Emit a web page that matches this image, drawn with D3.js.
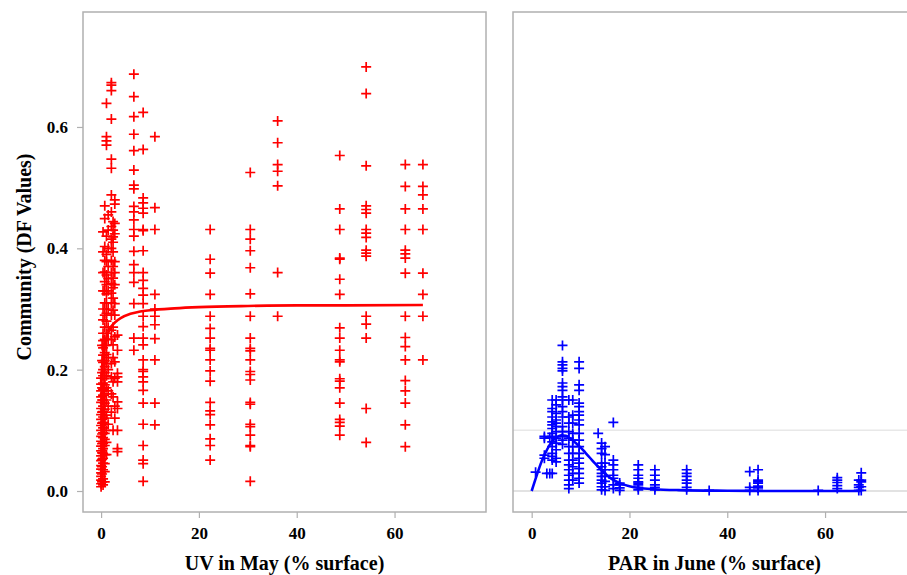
<!DOCTYPE html>
<html>
<head>
<meta charset="utf-8">
<script src="https://cdn.jsdelivr.net/npm/d3@7"></script>
<style>
  body { margin: 0; background: #fff; }
  svg { display: block; }
  text { font-family: "Liberation Serif", "Times New Roman", serif; font-weight: bold; fill: #000; }
</style>
</head>
<body>
<svg id="chart" width="907" height="575"></svg>
<script>
// ---- UV in May: sampling sites (% surface) and community DF values at each ----
const uvSites = [0.0, 0.2, 0.4, 0.75, 1.1, 1.45, 2.1, 2.45, 2.8, 3.35, 6.7, 8.6, 11.0, 22.3, 30.5, 36.1, 48.8, 54.2, 62.2, 65.8];
const uvDF = [
  [0.007, 0.012, 0.018, 0.024, 0.03, 0.036, 0.042, 0.05, 0.058, 0.066, 0.074, 0.082, 0.09, 0.1, 0.108, 0.118, 0.126, 0.136, 0.146, 0.155, 0.165, 0.176, 0.186],
  [0.015, 0.028, 0.04, 0.052, 0.063, 0.078, 0.094, 0.112, 0.13, 0.15, 0.17, 0.195, 0.215, 0.24],
  [0.01, 0.02, 0.035, 0.046, 0.054, 0.062, 0.07, 0.079, 0.088, 0.096, 0.104, 0.113, 0.122, 0.131, 0.14, 0.15, 0.158, 0.168, 0.178, 0.19, 0.2, 0.212, 0.224, 0.236, 0.248, 0.26, 0.282, 0.3, 0.33, 0.36, 0.394, 0.427],
  [0.015, 0.032, 0.045, 0.06, 0.075, 0.085, 0.095, 0.11, 0.12, 0.135, 0.145, 0.16, 0.175, 0.185, 0.195, 0.205, 0.215, 0.228, 0.24, 0.25, 0.27, 0.29, 0.31, 0.33, 0.345, 0.361, 0.38, 0.403, 0.449, 0.47],
  [0.06, 0.08, 0.1, 0.125, 0.15, 0.17, 0.19, 0.21, 0.225, 0.24, 0.26, 0.28, 0.293, 0.31, 0.325, 0.34, 0.356, 0.378, 0.39, 0.42, 0.57, 0.577, 0.584, 0.639],
  [0.11, 0.14, 0.165, 0.2, 0.22, 0.25, 0.27, 0.3, 0.33, 0.35, 0.37, 0.4, 0.43, 0.455],
  [0.13, 0.16, 0.188, 0.21, 0.25, 0.265, 0.29, 0.31, 0.326, 0.342, 0.36, 0.38, 0.4, 0.415, 0.436, 0.46, 0.488, 0.532, 0.547, 0.613, 0.66, 0.669, 0.673],
  [0.1, 0.155, 0.18, 0.22, 0.241, 0.27, 0.298, 0.318, 0.335, 0.351, 0.37, 0.394, 0.41, 0.419, 0.43, 0.444],
  [0.12, 0.14, 0.186, 0.213, 0.254, 0.29, 0.309, 0.34, 0.36, 0.378, 0.424, 0.441, 0.473, 0.48],
  [0.065, 0.07, 0.1, 0.136, 0.147, 0.18, 0.188, 0.194, 0.232, 0.257],
  [0.687, 0.65, 0.617, 0.588, 0.561, 0.529, 0.504, 0.498, 0.469, 0.46, 0.447, 0.431, 0.42, 0.395, 0.373, 0.36, 0.344, 0.309, 0.252, 0.232],
  [0.624, 0.563, 0.483, 0.475, 0.466, 0.458, 0.431, 0.429, 0.396, 0.36, 0.347, 0.334, 0.323, 0.309, 0.288, 0.271, 0.252, 0.241, 0.216, 0.2, 0.197, 0.188, 0.18, 0.166, 0.145, 0.11, 0.075, 0.051, 0.045, 0.016],
  [0.584, 0.467, 0.431, 0.324, 0.3, 0.288, 0.274, 0.251, 0.216, 0.145, 0.109],
  [0.431, 0.382, 0.359, 0.324, 0.288, 0.268, 0.252, 0.235, 0.232, 0.216, 0.198, 0.181, 0.146, 0.132, 0.126, 0.109, 0.086, 0.075, 0.051],
  [0.525, 0.431, 0.415, 0.396, 0.368, 0.325, 0.288, 0.252, 0.235, 0.231, 0.216, 0.197, 0.192, 0.183, 0.146, 0.143, 0.11, 0.106, 0.092, 0.075, 0.073, 0.016],
  [0.61, 0.574, 0.538, 0.527, 0.503, 0.36, 0.288],
  [0.553, 0.465, 0.431, 0.384, 0.382, 0.349, 0.324, 0.269, 0.252, 0.232, 0.216, 0.213, 0.185, 0.181, 0.17, 0.145, 0.118, 0.113, 0.107, 0.092],
  [0.699, 0.655, 0.536, 0.47, 0.464, 0.458, 0.431, 0.425, 0.418, 0.397, 0.392, 0.387, 0.288, 0.275, 0.252, 0.136, 0.08],
  [0.538, 0.502, 0.465, 0.431, 0.397, 0.391, 0.384, 0.359, 0.288, 0.253, 0.238, 0.216, 0.182, 0.165, 0.145, 0.109, 0.073],
  [0.538, 0.502, 0.488, 0.465, 0.431, 0.359, 0.324, 0.288, 0.216]
];
// fitted saturating response to UV
const uvFitX = [0, 0.25, 0.5, 1, 1.5, 2, 3, 4, 6, 8, 10, 15, 20, 30, 40, 50, 65.8];
const uvFitY = [0.18, 0.21, 0.228, 0.25, 0.262, 0.27, 0.279, 0.285, 0.292, 0.296, 0.298, 0.301, 0.303, 0.305, 0.306, 0.306, 0.3065];

// ---- PAR in June: sampling sites (% surface) and community DF values ----
const parSites = [0.8, 2.6, 3.1, 3.7, 4.2, 5.0, 6.3, 7.6, 8.4, 9.7, 13.6, 14.3, 15.0, 16.7, 18.0, 21.8, 25.2, 31.7, 36.3, 44.6, 46.3, 58.6, 62.5, 66.9, 67.4];
const parDF = [
  [0.031],
  [0.090, 0.087, 0.059, 0.054],
  [0.029],
  [0.029, 0.088],
  [0.150, 0.136, 0.131, 0.122, 0.114, 0.109, 0.103, 0.095, 0.090, 0.081, 0.073, 0.062, 0.057, 0.051, 0.029],
  [0.150, 0.142, 0.128, 0.117, 0.112, 0.106, 0.098, 0.087, 0.079, 0.068, 0.054, 0.048],
  [0.240, 0.213, 0.208, 0.202, 0.198, 0.178, 0.172, 0.166, 0.155, 0.150, 0.139, 0.131, 0.122, 0.106, 0.098, 0.090, 0.084, 0.077],
  [0.150, 0.122, 0.112, 0.098, 0.087, 0.073, 0.062, 0.051, 0.043, 0.035, 0.026, 0.018, 0.010, 0.004],
  [0.150, 0.125, 0.112, 0.095, 0.084, 0.073, 0.062, 0.051, 0.040, 0.029, 0.018],
  [0.213, 0.202, 0.175, 0.166, 0.145, 0.139, 0.131, 0.125, 0.117, 0.109, 0.095, 0.084, 0.073, 0.062, 0.054, 0.046, 0.037, 0.029, 0.021, 0.013],
  [0.095],
  [0.079, 0.070, 0.062, 0.046, 0.040, 0.035, 0.029, 0.024, 0.018, 0.013, 0.007, 0.002],
  [0.073, 0.060, 0.046, 0.035, 0.024, 0.016, 0.007, 0.001],
  [0.113, 0.051, 0.043, 0.035, 0.026, 0.021, 0.010, 0.004],
  [0.013, 0.010, 0.005, 0.001],
  [0.043, 0.035, 0.026, 0.021, 0.015, 0.013, 0.010, 0.006, 0.002],
  [0.035, 0.026, 0.018, 0.010, 0.006, 0.002],
  [0.035, 0.029, 0.024, 0.018, 0.013, 0.006, 0.002],
  [0.001],
  [0.032, 0.006, 0.001],
  [0.035, 0.018, 0.015, 0.013, 0.008, 0.005, 0.001],
  [0.001],
  [0.022, 0.018, 0.014, 0.009, 0.004],
  [0.018, 0.010, 0.006, 0.001],
  [0.030, 0.018, 0.015, 0.007, 0.001]
];
// fitted unimodal response to PAR
const parFitX = [0, 1, 2, 3, 4, 5, 6, 7, 8, 9, 10, 11, 12, 13, 14, 15, 16, 17, 18, 20, 22, 25, 30, 40, 50, 67.5];
const parFitY = [0, 0.025, 0.048, 0.066, 0.08, 0.088, 0.092, 0.091, 0.086, 0.079, 0.072, 0.063, 0.054, 0.045, 0.037, 0.029, 0.022, 0.017, 0.013, 0.008, 0.005, 0.003, 0.0015, 0.0005, 0, 0];

// ---- axes ----
const xTicks = [0, 20, 40, 60];
const yTicks = [0.0, 0.2, 0.4, 0.6];
const parGuides = [0, 0.1];
const yTitle = "Community (DF Values)";
const uvTitle = "UV in May (% surface)";
const parTitle = "PAR in June (% surface)";

const svg = d3.select("#chart");
const frameColor = "#b0b0b0";
const plotTop = 12, plotBottom = 512, panelW = 403;
const panels = [
  { left: 83,  xDomain: [-3.7, 78.7], sites: uvSites,  values: uvDF,  fitX: uvFitX,  fitY: uvFitY,  color: "#ff0000", title: uvTitle,  yAxis: true },
  { left: 513, xDomain: [-3.82, 78.6], sites: parSites, values: parDF, fitX: parFitX, fitY: parFitY, color: "#0000ff", title: parTitle, yAxis: false }
];

const y = d3.scaleLinear().domain([-0.0346, 0.7895]).range([plotBottom, plotTop]);

// thin "+" marker
const plus = {
  draw(ctx, size) {
    const r = Math.sqrt(size) / 2;
    ctx.moveTo(-r, 0); ctx.lineTo(r, 0);
    ctx.moveTo(0, -r); ctx.lineTo(0, r);
  }
};
const marker = d3.symbol().type(plus).size(100);

panels.forEach(p => {
  const x = d3.scaleLinear().domain(p.xDomain).range([p.left, p.left + panelW]);
  const g = svg.append("g");

  if (!p.yAxis) {
    g.selectAll("line.guide").data(parGuides).join("line")
      .attr("class", "guide")
      .attr("x1", p.left).attr("x2", p.left + panelW)
      .attr("y1", d => y(d)).attr("y2", d => y(d))
      .attr("stroke", (d, i) => i === 0 ? "#d8d8d8" : "#e8e8e8")
      .attr("stroke-width", 1.5);
  }

  // frame
  g.append("rect")
    .attr("x", p.left).attr("y", plotTop)
    .attr("width", panelW).attr("height", plotBottom - plotTop)
    .attr("fill", "none").attr("stroke", frameColor).attr("stroke-width", 1.5);

  // x axis
  const ax = g.append("g").attr("transform", `translate(0,${plotBottom})`)
    .call(d3.axisBottom(x).tickValues(xTicks).tickSize(6).tickPadding(6).tickFormat(d3.format("d")));
  ax.select(".domain").remove();
  ax.selectAll("line").attr("stroke", frameColor).attr("stroke-width", 1.2);
  ax.selectAll("text").attr("font-size", 17).attr("font-family", "Liberation Serif").attr("font-weight", "bold").attr("dy", "0.9em");

  if (p.yAxis) {
    const ay = g.append("g").attr("transform", `translate(${p.left},0)`)
      .call(d3.axisLeft(y).tickValues(yTicks).tickSize(6).tickPadding(9).tickFormat(d3.format(".1f")));
    ay.select(".domain").remove();
    ay.selectAll("line").attr("stroke", frameColor).attr("stroke-width", 1.2);
    ay.selectAll("text").attr("font-size", 17).attr("font-family", "Liberation Serif").attr("font-weight", "bold");
  }

  // points
  const pts = p.sites.flatMap((s, i) => p.values[i].map(v => ({ x: s, v })));
  g.append("g").selectAll("path").data(pts).join("path")
    .attr("transform", d => `translate(${x(d.x)},${y(d.v)})`)
    .attr("d", marker)
    .attr("fill", "none").attr("stroke", p.color).attr("stroke-width", 1.7);

  // fitted curve
  const line = d3.line().x(d => x(d[0])).y(d => y(d[1])).curve(d3.curveMonotoneX);
  g.append("path")
    .datum(p.fitX.map((v, i) => [v, p.fitY[i]]))
    .attr("d", line)
    .attr("fill", "none").attr("stroke", p.color).attr("stroke-width", 2.6);

  // x title
  g.append("text")
    .attr("x", p.left + panelW / 2).attr("y", 570)
    .attr("text-anchor", "middle").attr("font-size", 20)
    .text(p.title);
});

svg.append("text")
  .attr("transform", "translate(31,257) rotate(-90)")
  .attr("text-anchor", "middle").attr("font-size", 20)
  .text(yTitle);
</script>
</body>
</html>
